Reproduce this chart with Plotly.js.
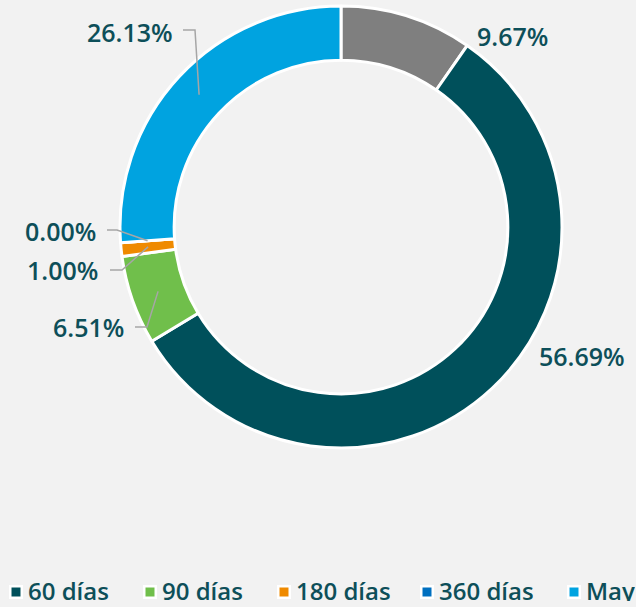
<!DOCTYPE html>
<html><head><meta charset="utf-8">
<script src="https://cdn.plot.ly/plotly-3.0.1.min.js"></script>
<style>html,body{margin:0;padding:0;background:#f2f2f2;}</style>
</head><body><div id="chart" style="width:636px;height:607px;"></div>
<script>
// ---- data ----
const categories = ["30 días", "60 días", "90 días", "180 días", "360 días", "May"];
const shares = [9.67, 56.69, 6.51, 1.00, 0.00, 26.13];
const legendCategories = ["60 días", "90 días", "180 días", "360 días", "May"];

// ---- styles ----
const sliceColors = ["#7f7f7f", "#00505b", "#70bf4b", "#ef8a00", "#0070c0", "#00a3e0"];
const textColor = "#0d4f59";
const fontFamily = "Open Sans, sans-serif";
const fontWeight = 600;
const W = 636, H = 607;
const cx = 341, cy = 227, R = 221, holeFrac = 0.755;

const px = x => x / W;
const py = y => 1 - y / H;

// label placement (pixels): x edge, y center, anchor
const labelPos = [
  {x: 475, y: 36, anchor: "left"},
  {x: 537, y: 356, anchor: "left"},
  {x: 126, y: 327, anchor: "right"},
  {x: 100, y: 270, anchor: "right"},
  {x: 98, y: 231, anchor: "right"},
  {x: 175, y: 32, anchor: "right"}
];
// leader lines: start & elbow (pixels); end point computed on slice
const leaders = {
  2: {start: [135, 327], elbow: [147, 327]},
  3: {start: [110, 270], elbow: [122, 270]},
  4: {start: [107, 230], elbow: [117, 230]},
  5: {start: [183, 30], elbow: [195, 30]}
};

const total = shares.reduce((a, b) => a + b, 0);
let cum = 0;
const midAngles = shares.map(v => { const m = (cum + v / 2) / total * 2 * Math.PI; cum += v; return m; });

const annotations = [];
const shapes = [];

shares.forEach((v, i) => {
  const lp = labelPos[i];
  annotations.push({
    xref: "paper", yref: "paper", x: px(lp.x), y: py(lp.y),
    xanchor: lp.anchor, yanchor: "middle", showarrow: false,
    text: v.toFixed(2) + "%",
    font: {family: fontFamily, size: 25, color: textColor, weight: fontWeight}
  });
  if (leaders[i]) {
    const r = (R + R * holeFrac) / 2;
    const ex = cx + r * Math.sin(midAngles[i]);
    const ey = cy - r * Math.cos(midAngles[i]);
    const L = leaders[i];
    shapes.push({
      type: "path", xref: "paper", yref: "paper",
      path: `M ${px(L.start[0])} ${py(L.start[1])} L ${px(L.elbow[0])} ${py(L.elbow[1])} L ${px(ex)} ${py(ey)}`,
      line: {color: "#a6a6a6", width: 1.5}
    });
  }
});

// custom legend (gray slice not listed)
const legendTextX = [27, 161, 295, 438, 585];
const legendY = 590;
legendCategories.forEach((name, k) => {
  const color = sliceColors[categories.indexOf(name)];
  const sx = legendTextX[k] - 11;
  shapes.push({type: "rect", xref: "paper", yref: "paper",
    x0: px(sx - 7), x1: px(sx + 7), y0: py(legendY + 9), y1: py(legendY - 5),
    fillcolor: "#ffffff", line: {width: 0}});
  shapes.push({type: "rect", xref: "paper", yref: "paper",
    x0: px(sx - 4.5), x1: px(sx + 4.5), y0: py(legendY + 6.5), y1: py(legendY - 2.5),
    fillcolor: color, line: {width: 0}});
  annotations.push({
    xref: "paper", yref: "paper", x: px(legendTextX[k]), y: py(legendY),
    xanchor: "left", yanchor: "middle", showarrow: false, text: name,
    height: 22, borderpad: 0,
    font: {family: fontFamily, size: 24, color: textColor, weight: fontWeight}
  });
});

const trace = {
  type: "pie",
  labels: categories,
  values: shares,
  sort: false,
  direction: "clockwise",
  rotation: 0,
  hole: holeFrac,
  textinfo: "none",
  showlegend: false,
  marker: {colors: sliceColors, line: {color: "#ffffff", width: 3}},
  domain: {x: [px(cx - R), px(cx + R)], y: [py(cy + R), py(cy - R)]},
  hoverinfo: "label+percent"
};

Plotly.newPlot("chart", [trace], {
  width: W, height: H,
  margin: {l: 0, r: 0, t: 0, b: 0},
  paper_bgcolor: "#f2f2f2",
  plot_bgcolor: "#f2f2f2",
  showlegend: false,
  annotations: annotations,
  shapes: shapes
}, {displayModeBar: false, staticPlot: true});
</script>
</body></html>
